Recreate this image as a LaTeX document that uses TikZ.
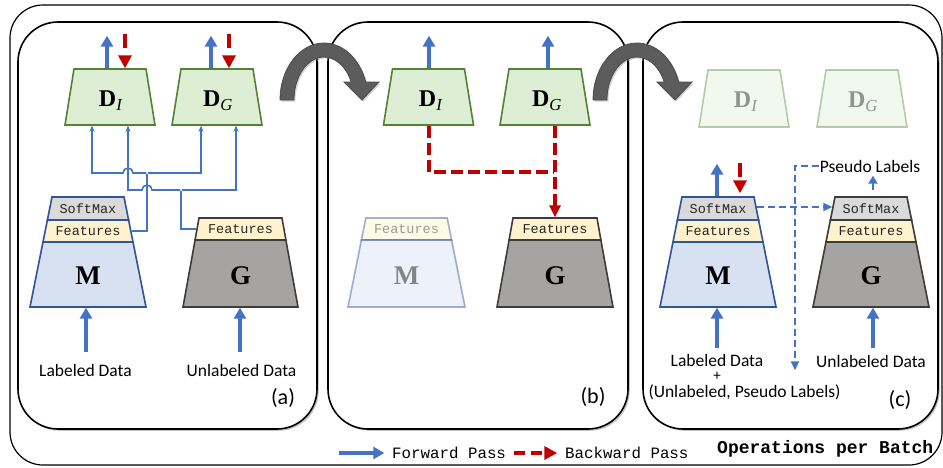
\documentclass[tikz,border=0pt]{standalone}
\usepackage{fontspec}
\setmainfont{Liberation Serif}
\setmonofont{Liberation Mono}
\newfontfamily\calfont{Carlito}
\usepackage{tikz}
\usetikzlibrary{arrows.meta}
\usetikzlibrary{shadows}
\pgfdeclarelayer{panellayer}
\pgfdeclarelayer{edgelayer}
\pgfdeclarelayer{nodelayer}
\pgfsetlayers{panellayer,edgelayer,nodelayer,main}
\definecolor{fwdblue}{RGB}{68,114,196}
\definecolor{bwdred}{RGB}{192,0,0}
\definecolor{dline}{RGB}{84,130,53}
\definecolor{dfill}{RGB}{222,238,212}
\definecolor{mline}{RGB}{47,85,151}
\definecolor{mfill}{RGB}{216,225,242}
\definecolor{gline}{RGB}{60,60,60}
\definecolor{gfill}{RGB}{166,163,163}
\definecolor{sfill}{RGB}{218,218,218}
\definecolor{ffill}{RGB}{255,242,204}
\definecolor{turngray}{RGB}{92,92,92}
\tikzstyle{none}=[inner sep=0pt]
\tikzstyle{frame}=[draw=black,line width=1.2pt,rounded corners=33pt]
\tikzstyle{panel}=[draw=black,fill=white,line width=1.6pt,rounded corners=40pt,drop shadow={shadow xshift=1.8pt,shadow yshift=-1.8pt,opacity=0.45}]
\tikzstyle{dblock}=[draw=dline,fill=dfill,line width=1.6pt]
\tikzstyle{mblock}=[draw=mline,fill=mfill,line width=1.6pt]
\tikzstyle{gblock}=[draw=gline,fill=gfill,line width=1.6pt]
\tikzstyle{softsec}=[fill=sfill,line width=1.6pt]
\tikzstyle{featsec}=[fill=ffill,line width=1.6pt]
\tikzstyle{turn}=[fill=turngray,draw=black!70,line width=0.8pt,drop shadow={shadow xshift=1.5pt,shadow yshift=-1.5pt,opacity=0.35}]
\tikzstyle{monotxt}=[inner sep=0pt,text=black!85,font=\ttfamily\fontsize{13.5}{14}\selectfont]
\tikzstyle{bigletter}=[inner sep=0pt,font=\bfseries\fontsize{27}{28}\selectfont]
\tikzstyle{dletter}=[inner sep=0pt,font=\fontsize{24}{24}\selectfont]
\tikzstyle{sanstxt}=[inner sep=0pt,font=\calfont\fontsize{17.5}{19}\selectfont]
\tikzstyle{tag}=[inner sep=0pt,font=\calfont\fontsize{22}{24}\selectfont]
\tikzstyle{legendtxt}=[inner sep=0pt,anchor=west,font=\ttfamily\fontsize{15.8}{17}\selectfont]
\tikzstyle{fwd}=[-{Triangle[length=11pt,width=12pt]},draw=fwdblue,line width=4pt]
\tikzstyle{smallfwd}=[-{Triangle[length=8pt,width=9pt]},draw=fwdblue,line width=2.2pt]
\tikzstyle{bwd}=[-{Triangle[length=13pt,width=13pt]},draw=bwdred,line width=4pt,dash pattern=on 14pt off 8pt]
\tikzstyle{bwdline}=[-,draw=bwdred,line width=3.5pt,dash pattern=on 12pt off 5pt]
\tikzstyle{bwdpath}=[-{Triangle[length=12pt,width=11pt]},draw=bwdred,line width=3.5pt,dash pattern=on 12pt off 5pt]
\tikzstyle{legbwd}=[-{Triangle[length=13pt,width=13pt]},draw=bwdred,line width=4pt,dash pattern=on 11pt off 6pt]
\tikzstyle{link}=[-{Stealth[length=6pt,width=5pt]},draw=fwdblue,line width=1.6pt]
\tikzstyle{linkline}=[-,draw=fwdblue,line width=1.6pt]
\tikzstyle{pseudo}=[-{Triangle[length=9pt,width=8pt]},draw=fwdblue,line width=2pt,dash pattern=on 7pt off 4pt]

\begin{document}
\begin{tikzpicture}[x=1pt,y=-1pt]
	\useasboundingbox (0,0) rectangle (943,467);
	\begin{pgfonlayer}{panellayer}
		\draw [style=frame] (10,5) rectangle (942,465);
		\draw [style=panel] (18,22) rectangle (317,429);
		\draw [style=panel] (328,22) rectangle (628,429);
		\draw [style=panel] (643,22) rectangle (938,429);
	\end{pgfonlayer}
	\begin{pgfonlayer}{nodelayer}
		% (a)
		\draw [style=dblock] (74,69) -- (146,69) -- (155,125) -- (65,125) -- cycle;
		\draw [style=dblock] (181,69) -- (253,69) -- (262,125) -- (172,125) -- cycle;
		\draw [style=softsec,draw=mline] (52,197) -- (124,197) -- (128.6,220) -- (47.4,220) -- cycle;
		\draw [style=featsec,draw=mline] (47.4,220) -- (128.6,220) -- (133,242) -- (43,242) -- cycle;
		\draw [style=mblock] (43,242) -- (133,242) -- (146,307) -- (30,307) -- cycle;
		\draw [style=featsec,draw=gline] (199,218) -- (282,218) -- (285.9,240) -- (195.1,240) -- cycle;
		\draw [style=gblock] (195.1,240) -- (285.9,240) -- (298,307) -- (183,307) -- cycle;
		\node [style=dletter] (dIa) at (111,101) {\textbf{D}\textsubscript{\textit{I}}};
		\node [style=dletter] (dGa) at (218,101) {\textbf{D}\textsubscript{\textit{G}}};
		\node [style=monotxt] (softMa) at (88,208.5) {SoftMax};
		\node [style=monotxt] (featMa) at (88,231) {Features};
		\node [style=bigletter] (Ma) at (88,276) {M};
		\node [style=monotxt] (featGa) at (240.5,229) {Features};
		\node [style=bigletter] (Ga) at (240.5,276) {G};
		\node [style=sanstxt] (labA) at (85.5,370) {Labeled Data};
		\node [style=sanstxt] (unlabA) at (241.5,370) {Unlabeled Data};
		\node [style=tag] (tagA) at (283,398) {(a)};
		\node [style=none] (dIaup) at (107,69) {};
		\node [style=none] (dIaup0) at (107,35) {};
		\node [style=none] (dIabk) at (125,33) {};
		\node [style=none] (dIabk0) at (125,69) {};
		\node [style=none] (dGaup) at (211,69) {};
		\node [style=none] (dGaup0) at (211,35) {};
		\node [style=none] (dGabk) at (229,33) {};
		\node [style=none] (dGabk0) at (229,69) {};
		\node [style=none] (dIain) at (92,125) {};
		\node [style=none] (dIain0) at (128,125) {};
		\node [style=none] (dGain) at (201,125) {};
		\node [style=none] (dGain0) at (236,125) {};
		\node [style=none] (jMa) at (147,173) {};
		\node [style=none] (jGa) at (181,190) {};
		\node [style=none] (featMaR) at (130.8,231) {};
		\node [style=none] (featGaL) at (197,229) {};
		\node [style=none] (inMa) at (86,353) {};
		\node [style=none] (inMa0) at (86,307) {};
		\node [style=none] (inGa) at (240,353) {};
		\node [style=none] (inGa0) at (240,307) {};
		% (b)
		\draw [style=dblock] (392.5,69) -- (464.5,69) -- (473.5,125) -- (383.5,125) -- cycle;
		\draw [style=dblock] (509,69) -- (581,69) -- (590,125) -- (500,125) -- cycle;
		\begin{scope}[opacity=0.45]
			\draw [style=featsec,draw=mline] (365.8,218) -- (447.2,218) -- (451.6,240) -- (361.4,240) -- cycle;
			\draw [style=mblock] (361.4,240) -- (451.6,240) -- (465,307) -- (348,307) -- cycle;
			\node [style=monotxt] (featMb) at (406.5,229) {Features};
			\node [style=bigletter] (Mb) at (406.5,276) {M};
		\end{scope}
		\draw [style=featsec,draw=gline] (513,218) -- (597,218) -- (600.9,240) -- (509.1,240) -- cycle;
		\draw [style=gblock] (509.1,240) -- (600.9,240) -- (613,307) -- (497,307) -- cycle;
		\node [style=dletter] (dIb) at (431,101) {\textbf{D}\textsubscript{\textit{I}}};
		\node [style=dletter] (dGb) at (547,101) {\textbf{D}\textsubscript{\textit{G}}};
		\node [style=monotxt] (featGb) at (555,229) {Features};
		\node [style=bigletter] (Gb) at (555,276) {G};
		\node [style=tag] (tagB) at (593,397) {(b)};
		\node [style=none] (dIbup) at (429,69) {};
		\node [style=none] (dIbup0) at (429,35) {};
		\node [style=none] (dGbup) at (548,69) {};
		\node [style=none] (dGbup0) at (548,35) {};
		\node [style=none] (dIbbot) at (429,125) {};
		\node [style=none] (dGbbot) at (555,125) {};
		\node [style=none] (meetB) at (555,172) {};
		\node [style=none] (featGbT) at (555,218) {};
		% (c)
		\begin{scope}[opacity=0.4]
			\draw [style=dblock] (708,70) -- (780,70) -- (789,127) -- (699,127) -- cycle;
			\draw [style=dblock] (826,70) -- (898,70) -- (907,127) -- (817,127) -- cycle;
			\node [style=dletter] (dIc) at (746,102) {\textbf{D}\textsubscript{\textit{I}}};
			\node [style=dletter] (dGc) at (863,102) {\textbf{D}\textsubscript{\textit{G}}};
		\end{scope}
		\draw [style=softsec,draw=mline] (682,197) -- (754,197) -- (758.6,220) -- (677.4,220) -- cycle;
		\draw [style=featsec,draw=mline] (677.4,220) -- (758.6,220) -- (763,242) -- (673,242) -- cycle;
		\draw [style=mblock] (673,242) -- (763,242) -- (776,307) -- (660,307) -- cycle;
		\draw [style=softsec,draw=gline] (835,197) -- (907,197) -- (911.6,220) -- (830.4,220) -- cycle;
		\draw [style=featsec,draw=gline] (830.4,220) -- (911.6,220) -- (916,242) -- (826,242) -- cycle;
		\draw [style=gblock] (826,242) -- (916,242) -- (929,307) -- (813,307) -- cycle;
		\node [style=monotxt] (softMc) at (718,208.5) {SoftMax};
		\node [style=monotxt] (featMc) at (718,231) {Features};
		\node [style=bigletter] (Mc) at (718,276) {M};
		\node [style=monotxt] (softGc) at (871,208.5) {SoftMax};
		\node [style=monotxt] (featGc) at (871,231) {Features};
		\node [style=bigletter] (Gc) at (871,276) {G};
		\node [style=sanstxt,inner sep=1pt] (plab) at (870,166) {Pseudo Labels};
		\node [style=sanstxt] (labC) at (717,360) {Labeled Data};
		\node [style=sanstxt,font=\calfont\fontsize{15}{15}\selectfont] (plusC) at (717,376) {+};
		\node [style=sanstxt] (mixC) at (744.5,392) {(Unlabeled, Pseudo Labels)};
		\node [style=sanstxt] (unlabC) at (871,361) {Unlabeled Data};
		\node [style=tag] (tagC) at (900,400) {(c)};
		\node [style=none] (Mcup) at (717,197) {};
		\node [style=none] (Mcup0) at (717,163) {};
		\node [style=none] (Mcbk) at (740,162) {};
		\node [style=none] (Mcbk0) at (740,194) {};
		\node [style=none] (softMcR) at (756,207) {};
		\node [style=none] (softGcL) at (833,207) {};
		\node [style=none] (pdown) at (795,371) {};
		\node [style=none] (Gcup) at (873,191) {};
		\node [style=none] (Gcup0) at (873,175) {};
		\node [style=none] (inMc) at (717,349) {};
		\node [style=none] (inMc0) at (717,307) {};
		\node [style=none] (inGc) at (873,349) {};
		\node [style=none] (inGc0) at (873,307) {};
		% legend
		\node [style=legendtxt] (fwdtxt) at (392,453) {Forward Pass};
		\node [style=legendtxt] (bwdtxt) at (565,453) {Backward Pass};
		\node [style=legendtxt,font=\ttfamily\bfseries\fontsize{18}{19}\selectfont] (optxt) at (717,449) {Operations per Batch};
		\node [style=none] (lgfwd) at (338,453) {};
		\node [style=none] (lgfwd0) at (385,453) {};
		\node [style=none] (lgbwd) at (513,453) {};
		\node [style=none] (lgbwd0) at (558,453) {};
	\end{pgfonlayer}
	\begin{pgfonlayer}{edgelayer}
		\draw [style=fwd] (dIaup) to (dIaup0);
		\draw [style=bwd] (dIabk) to (dIabk0);
		\draw [style=fwd] (dGaup) to (dGaup0);
		\draw [style=bwd] (dGabk) to (dGabk0);
		\draw [style=linkline] (featMaR) -| (jMa);
		\draw [style=link] (jMa) -- (133,173) arc (0:-180:5) -| (dIain);
		\draw [style=link] (jMa) -| (dGain);
		\draw [style=linkline] (featGaL) -| (jGa);
		\draw [style=link] (jGa) -- (152,190) arc (0:-180:5) -| (dIain0);
		\draw [style=link] (jGa) -| (dGain0);
		\draw [style=fwd] (inMa) to (inMa0);
		\draw [style=fwd] (inGa) to (inGa0);
		\draw [style=fwd] (dIbup) to (dIbup0);
		\draw [style=fwd] (dGbup) to (dGbup0);
		\draw [style=bwdline] (dIbbot) |- (meetB);
		\draw [style=bwdpath] (dGbbot) to (featGbT);
		\draw [style=fwd] (Mcup) to (Mcup0);
		\draw [style=bwd] (Mcbk) to (Mcbk0);
		\draw [style=pseudo] (softMcR) to (softGcL);
		\draw [style=pseudo] (plab.west) -| (pdown);
		\draw [style=smallfwd] (Gcup) to (Gcup0);
		\draw [style=fwd] (inMc) to (inMc0);
		\draw [style=fwd] (inGc) to (inGc0);
		\draw [style=fwd] (lgfwd) to (lgfwd0);
		\draw [style=legbwd] (lgbwd) to (lgbwd0);
	\end{pgfonlayer}
	\draw [style=turn] (280,100) arc (180:341.6:44 and 57) -- (379,82) -- (362,100) -- (344,82) -- (351.2,82) arc (335.2:180:30 and 43) -- cycle;
	\begin{scope}[shift={(313,0)}]
		\draw [style=turn] (280,100) arc (180:341.6:44 and 57) -- (379,82) -- (362,100) -- (344,82) -- (351.2,82) arc (335.2:180:30 and 43) -- cycle;
	\end{scope}
\end{tikzpicture}
\end{document}
